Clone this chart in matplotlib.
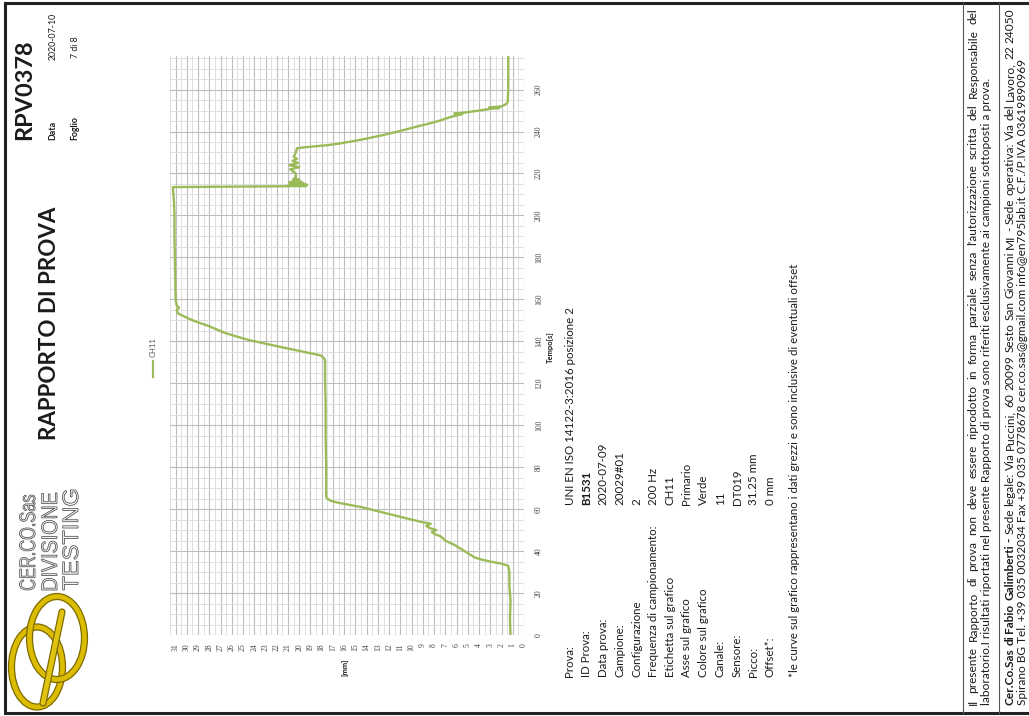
import matplotlib
matplotlib.use("Agg")
import matplotlib.pyplot as plt
from matplotlib.font_manager import FontProperties
from matplotlib.patches import Ellipse, PathPatch
from matplotlib.textpath import TextPath
from matplotlib.transforms import Affine2D
from matplotlib.ticker import MultipleLocator

W, H = 1029, 716

# CH11 displacement trace, time [s] vs displacement [mm]
time_s = [
    0, 8, 16, 24, 30, 33, 34, 35, 36, 37, 39, 41, 43, 45, 47, 48, 49, 50, 51, 52,
    53, 54, 55, 57, 59, 61, 62, 63, 64, 65, 66,
    80, 95, 110, 122, 128, 131, 132, 133.3, 135, 137, 139, 140.5, 142, 144, 146,
    147.6, 149, 150.5, 152, 153.3, 155, 156, 157, 160, 175, 190, 200, 207, 213.5,
    214.0, 214.3, 214.6, 215.0, 215.3, 215.7, 216.0, 216.5, 217.0, 217.5, 218, 220,
    222, 223, 224, 225, 226, 227, 228, 230, 232, 232.5, 233.5, 234.3, 236, 238, 240,
    242, 244, 245.2, 247, 248.3, 248.6, 249, 250, 250.8, 251.2, 251.5, 252, 253,
    254, 260, 268, 276,
]
disp_mm = [
    1.2, 1.25, 1.2, 1.3, 1.3, 1.4, 2.0, 3.0, 3.8, 4.4, 5.0, 5.6, 6.2, 7.0, 7.4, 7.9,
    8.2, 7.8, 8.4, 8.7, 8.3, 9.2, 10.0, 11.5, 13.0, 14.5, 15.5, 16.5, 17.2, 17.5, 17.6,
    17.6, 17.65, 17.65, 17.7, 17.7, 17.7, 17.8, 18.1, 19.6, 21.4, 23.1, 24.4, 25.4,
    26.6, 27.5, 28.2, 29.0, 29.7, 30.3, 30.8, 30.9, 30.7, 30.9, 31.0, 31.05, 31.1,
    31.1, 31.15, 31.25,
    19.4, 21.0, 19.3, 20.8, 19.6, 20.9, 19.8, 20.6, 20.0, 20.5, 20.3, 20.3, 20.8,
    20.0, 20.9, 20.1, 20.6, 20.2, 20.5, 20.3, 20.2, 19.5, 17.5, 16.4, 14.6, 12.8,
    11.2, 9.8, 8.3, 7.5, 6.5, 5.5, 6.2, 5.3, 4.0, 3.0, 2.2, 3.1, 2.0, 1.6, 1.45,
    1.4, 1.4, 1.4,
]
mm_ticks = list(range(0, 32))
time_ticks = list(range(0, 261, 20))

info_labels = [
    "Prova:", "ID Prova:", "Data prova:", "Campione:", "Configurazione",
    "Frequenza di campionamento:", "Etichetta sul grafico", "Asse sul grafico",
    "Colore sul grafico", "Canale:", "Sensore:", "Picco:", "Offset*:",
]
info_values = [
    "UNI EN ISO 14122-3:2016 posizione 2", "B1531", "2020-07-09", "20029#01", "2",
    "200 Hz", "CH11", "Primario", "Verde", "11", "DT019", "31.25 mm", "0 mm",
]
note = "*le curve sul grafico rappresentano i dati grezzi e sono inclusive di eventuali offset"
footer_1 = ("Il presente Rapporto di prova non deve essere riprodotto in forma parziale senza "
            "l'autorizzazione scritta del Responsabile del")
footer_2 = ("laboratorio.I risultati riportati nel presente Rapporto di prova sono riferiti "
            "esclusivamente ai campioni sottoposti a prova.")
footer_3_bold = "Cer.Co.Sas di Fabio Galimberti"
footer_3 = ("- Sede legale: Via Puccini, 60  20099 Sesto San Giovanni MI - Sede operativa: "
            "Via del Lavoro, 22  24050")
footer_4 = ("Spirano BG Tel. +39 035 0032034 Fax +39 035 0778678 cer.co.sas@gmail.com "
            "info@en795lab.it C.F./P.IVA 03619890969")

GREEN = "#9bbb59"
INK = "#1b1b1b"

plt.rcParams["font.family"] = ["Lato", "DejaVu Sans"]

fig = plt.figure(figsize=(W / 100, H / 100), dpi=100)
page = fig.add_axes([0, 0, 1, 1])
page.set_xlim(0, W)
page.set_ylim(H, 0)
page.axis("off")
renderer = fig.canvas.get_renderer()


def width_of(s, size, **kw):
    t = page.text(0, 0, s, fontsize=size, **kw)
    w = t.get_window_extent(renderer).width
    t.remove()
    return w


def fit(s, length, **kw):
    return 10 * length / width_of(s, 10, **kw)


def vtext(x, y, s, size, ha="left", **kw):
    kw.setdefault("color", INK)
    return page.text(x, y, s, fontsize=size, rotation=90, rotation_mode="anchor",
                     ha=ha, va="center", **kw)


def justify(x, y0, y1, words, size, bold=0):
    weights = ["bold" if i < bold else "normal" for i in range(len(words))]
    widths = [width_of(w, size, fontweight=wt) for w, wt in zip(words, weights)]
    gap = ((y0 - y1) - sum(widths)) / (len(words) - 1)
    y = y0
    for w, wd, wt in zip(words, widths, weights):
        vtext(x, y, w, size, fontweight=wt)
        y -= wd + gap


def condensed_word(xc, y0, word, cap, length):
    # outlined, horizontally squeezed lettering running bottom-to-top
    prop = FontProperties(family=["Liberation Sans", "DejaVu Sans"])
    tp = TextPath((0, 0), word, size=cap / 0.72, prop=prop)
    ext = tp.get_extents()
    sx = length / ext.width
    tr = Affine2D().translate(-ext.x0, 0).scale(sx, 1)
    tr += Affine2D.from_values(0, -1, -1, 0, xc + cap / 2, y0)
    path = tr.transform_path(tp)
    page.add_patch(PathPatch(path, fc="#f4f4f4", ec="#4a4a4a", lw=0.55))


# page frame and footer box
page.plot([5, W], [3, 3], color="#222", lw=2.2, solid_capstyle="butt")
page.plot([5, 5], [3, 713], color="#222", lw=2.2)
page.plot([5, W], [713, 713], color="#222", lw=2.2, solid_capstyle="butt")
for x in (963, 999):
    page.plot([x, x], [3, 713], color="#555", lw=0.8)

# logo
for cx, cy, w, h in [(37, 667, 51, 80), (57, 638, 55, 83)]:
    page.add_patch(Ellipse((cx, cy), w, h, fill=False, ec="#7d6a00", lw=5.2))
    page.add_patch(Ellipse((cx, cy), w, h, fill=False, ec="#dcbc00", lw=3.4))
page.plot([62, 43], [612, 703], color="#7d6a00", lw=5.2, solid_capstyle="round")
page.plot([62, 43], [612, 703], color="#e0c410", lw=3.4, solid_capstyle="round")
for x, word, length in [(27, "CER.CO.Sas", 95), (49, "DIVISIONE", 97), (70, "TESTING", 100)]:
    condensed_word(x, 590, word, 16, length)

# header
vtext(50, 440, "RAPPORTO DI PROVA", fit("RAPPORTO DI PROVA", 232, fontweight="bold"),
      fontweight="bold")
vtext(25, 140, "RPV0378", fit("RPV0378", 100, fontweight="bold"), fontweight="bold")
small = fit("2020-07-10", 47)
vtext(53, 140, "Data", small, fontweight="bold")
vtext(53, 60, "2020-07-10", small)
vtext(75, 140, "Foglio", small, fontweight="bold")
vtext(75, 58, "7 di 8", small)

# legend key
page.plot([153, 153], [377, 361], color=GREEN, lw=1.6)
vtext(153, 357, "CH11", 5.5, color="#555555")

# chart
ax = fig.add_axes([170 / W, 1 - 635 / H, 354 / W, 579 / H])
ax.set_facecolor("none")
ax.plot(disp_mm, time_s, color=GREEN, lw=1.7)
ax.set_xlim(31.5, 0)
ax.set_ylim(0, 276)
ax.set_xticks(mm_ticks)
ax.set_yticks(time_ticks)
ax.xaxis.set_minor_locator(MultipleLocator(0.5))
ax.yaxis.set_minor_locator(MultipleLocator(5))
ax.grid(which="major", color="#bdbdbd", lw=0.8)
ax.grid(which="minor", color="#dadada", lw=0.6)
for s in ax.spines.values():
    s.set_visible(False)
ax.yaxis.tick_right()
ax.tick_params(which="both", length=0)
ax.tick_params(axis="x", labelrotation=90, labelsize=5.5, pad=6, colors="#444",
               labelfontfamily="Liberation Serif")
ax.tick_params(axis="y", labelrotation=90, labelsize=5.5, pad=8, colors="#444",
               labelfontfamily="Liberation Serif")
for lab in ax.get_yticklabels():
    lab.set_va("center")
vtext(345, 667, "[mm]", 5.5, ha="center", fontweight="bold")
vtext(550, 347, "Tempo[s]", 5.5, ha="center", fontweight="bold")

# test details
body = fit(note, 414)
for i, (lab, val) in enumerate(zip(info_labels, info_values)):
    x = 570 + i * 16.7
    vtext(x, 677, lab, body)
    vtext(x, 505, val, body, fontweight="bold" if lab == "ID Prova:" else "normal")
vtext(795, 677, note, body)

# footer
foot = fit(footer_2, 625)
justify(973, 705, 8, footer_1.split(" "), foot)
vtext(987, 705, footer_2, foot)
justify(1010, 705, 8, (footer_3_bold + " " + footer_3).replace("  ", " ").split(" "),
        foot, bold=5)
vtext(1023, 705, footer_4, foot)

fig.savefig("out.png", dpi=100)
